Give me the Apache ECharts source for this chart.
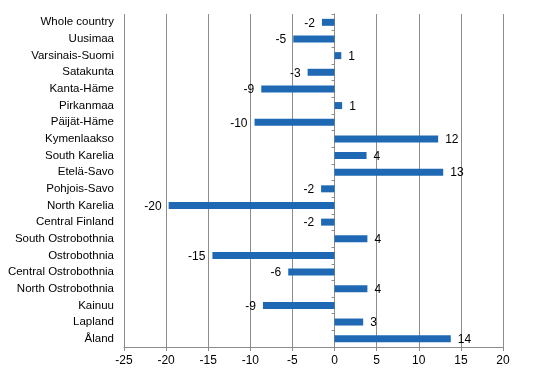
<!DOCTYPE html>
<html><head><meta charset="utf-8">
<script src="https://cdn.jsdelivr.net/npm/echarts@6/dist/echarts.min.js"></script>
<style>html,body{margin:0;padding:0;background:#fff}#c{width:546px;height:376px}</style>
</head><body><div id="c"></div>
<script>
const categories = ["Whole country","Uusimaa","Varsinais-Suomi","Satakunta","Kanta-Häme","Pirkanmaa","Päijät-Häme","Kymenlaakso","South Karelia","Etelä-Savo","Pohjois-Savo","North Karelia","Central Finland","South Ostrobothnia","Ostrobothnia","Central Ostrobothnia","North Ostrobothnia","Kainuu","Lapland","Åland"];
const values = [-1.5,-4.9,0.8,-3.2,-8.7,0.9,-9.5,12.3,3.8,12.9,-1.6,-19.7,-1.6,3.9,-14.5,-5.5,3.9,-8.5,3.4,13.8];
const valueLabels = ["-2","-5","1","-3","-9","1","-10","12","4","13","-2","-20","-2","4","-15","-6","4","-9","3","14"];
const xTicks = [-25,-20,-15,-10,-5,0,5,10,15,20];

const chart = echarts.init(document.getElementById('c'), null, {renderer:'canvas'});
const font = 'Liberation Sans, Arial, sans-serif';
chart.setOption({
  animation:false,
  grid:{left:124,right:43,top:14,bottom:29,containLabel:false},
  xAxis:{type:'value',min:xTicks[0],max:xTicks[xTicks.length-1],interval:5,
    axisLine:{show:true,lineStyle:{color:'#8c8c8c'}},
    axisTick:{show:true,length:4,lineStyle:{color:'#8c8c8c'}},
    axisLabel:{color:'#000',fontFamily:font,fontSize:12,margin:8},
    splitLine:{show:true,lineStyle:{color:'#8c8c8c',width:1}}},
  yAxis:[
    {type:'category',data:categories,inverse:true,
     axisLine:{show:false,onZero:false},axisTick:{show:false},
     axisLabel:{color:'#000',fontFamily:font,fontSize:11.5,margin:10}},
    {type:'category',data:categories,inverse:true,position:'left',
     axisLine:{show:true,onZero:true,lineStyle:{color:'#8c8c8c'}},
     axisTick:{show:true,length:3,lineStyle:{color:'#8c8c8c'}},
     axisLabel:{show:false}}
  ],
  series:[{type:'bar',yAxisIndex:0,barWidth:7,
    data:values.map(v=>({value:v,label:{position:v<0?'left':'right'}})),
    itemStyle:{color:'#1f69b4'},
    label:{show:true,color:'#000',fontFamily:font,fontSize:12,distance:7,offset:[0,1],
      formatter:p=>valueLabels[p.dataIndex]}}]
});
</script></body></html>
